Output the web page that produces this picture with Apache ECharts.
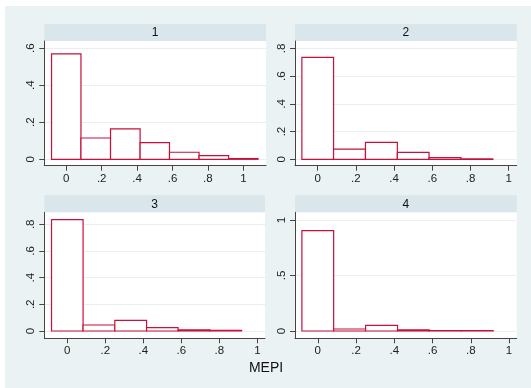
<!DOCTYPE html>
<html><head><meta charset="utf-8">
<script src="https://cdn.jsdelivr.net/npm/echarts@6/dist/echarts.min.js"></script>
<style>html,body{margin:0;padding:0;background:#fff}#c{width:531px;height:388px}</style>
</head><body><div id="c"></div><script>
// ---- data ----
const panelNames = ['1', '2', '3', '4'];
const binEdges = [-0.083, 0.083, 0.25, 0.417, 0.583, 0.75, 0.917, 1.083];
const fractions1 = [0.569, 0.115, 0.164, 0.090, 0.038, 0.0195, 0.004];
const fractions2 = [0.735, 0.074, 0.1225, 0.050, 0.0115, 0.004];
const fractions3 = [0.835, 0.045, 0.080, 0.025, 0.008, 0.004];
const fractions4 = [0.904, 0.018, 0.051, 0.010, 0.004, 0.003];
const xTicks = [0, 0.2, 0.4, 0.6, 0.8, 1];
const yTicks1 = [0, 0.2, 0.4, 0.6];
const yTicks2 = [0, 0.2, 0.4, 0.6, 0.8];
const yTicks3 = [0, 0.2, 0.4, 0.6, 0.8];
const yTicks4 = [0, 0.5, 1];
const xTitle = 'MEPI';

const allFractions = [fractions1, fractions2, fractions3, fractions4];
const allYTicks = [yTicks1, yTicks2, yTicks3, yTicks4];

// ---- layout ----
const layout = [
  {left: 44.3, top: 41, width: 221.7, height: 124.7, xmin: -0.124, xmax: 1.128, ymin: -0.0346, ymax: 0.639, stripTop: 24},
  {left: 295, top: 41, width: 221.7, height: 124.7, xmin: -0.119, xmax: 1.042, ymin: -0.046, ymax: 0.853, stripTop: 24},
  {left: 44.3, top: 212.3, width: 220.7, height: 126, xmin: -0.121, xmax: 1.04, ymin: -0.0547, ymax: 0.89, stripTop: 195.3},
  {left: 295, top: 212.3, width: 221.7, height: 126, xmin: -0.119, xmax: 1.04, ymin: -0.0658, ymax: 1.069, stripTop: 195.3}
];

const FONT = 'Liberation Sans, Arial, sans-serif';
const BAR = '#c8103c';
const AXIS = '#444';

function fmt(v) {
  if (v === 0) return '0';
  if (v === 1) return '1';
  return String(+v.toFixed(2)).replace(/^0\./, '.');
}

function renderItem(params, api) {
  const p0 = api.coord([api.value(0), api.value(2)]);
  const p1 = api.coord([api.value(1), 0]);
  return {
    type: 'rect',
    shape: {x: p0[0], y: p0[1], width: p1[0] - p0[0], height: p1[1] - p0[1]},
    style: {fill: '#fff', stroke: BAR, lineWidth: 1.2}
  };
}

const grids = [], xAxes = [], yAxes = [], series = [], graphics = [];
graphics.push({type: 'rect', z: -10, shape: {x: 5, y: 6, width: 526, height: 382}, style: {fill: '#eaf2f3'}, silent: true});

layout.forEach((L, i) => {
  grids.push({left: L.left, top: L.top, width: L.width, height: L.height, backgroundColor: '#fff', show: true, borderWidth: 0});
  xAxes.push({
    type: 'value', gridIndex: i, min: L.xmin, max: L.xmax,
    axisLine: {show: true, onZero: false, lineStyle: {color: AXIS, width: 1}},
    axisTick: {show: true, length: 5, customValues: xTicks, lineStyle: {color: AXIS}},
    axisLabel: {customValues: xTicks, formatter: fmt, margin: 7, fontFamily: FONT, fontSize: 11.5, color: '#222'},
    splitLine: {show: false}
  });
  yAxes.push({
    type: 'value', gridIndex: i, min: L.ymin, max: L.ymax,
    axisLine: {show: true, onZero: false, lineStyle: {color: AXIS, width: 1}},
    axisTick: {show: true, length: 5, customValues: allYTicks[i], lineStyle: {color: AXIS}},
    axisLabel: {customValues: allYTicks[i], formatter: fmt, rotate: 90, margin: 7, fontFamily: FONT, fontSize: 11.5, color: '#222'},
    splitLine: {show: true, lineStyle: {color: '#e8eff1', width: 1}}
  });
  const data = allFractions[i].map((f, k) => [binEdges[k], binEdges[k + 1], f]);
  series.push({
    type: 'custom', xAxisIndex: i, yAxisIndex: i, renderItem: renderItem,
    data: data, encode: {x: [0, 1], y: 2}, clip: false, silent: true
  });
  graphics.push({type: 'rect', shape: {x: L.left, y: L.stripTop, width: L.width, height: L.top - L.stripTop}, style: {fill: '#d9e6eb'}, silent: true});
  graphics.push({type: 'text', x: L.left + L.width / 2, y: (L.stripTop + L.top) / 2 + 0.5,
    style: {text: panelNames[i], fontFamily: FONT, fontSize: 12, fill: '#111', align: 'center', verticalAlign: 'middle'}, silent: true});
});

graphics.push({type: 'text', x: 266, y: 368, style: {text: xTitle, fontFamily: FONT, fontSize: 14, fill: '#111', align: 'center', verticalAlign: 'middle'}, silent: true});

const chart = echarts.init(document.getElementById('c'), null, {renderer: 'canvas'});
chart.setOption({
  animation: false,
  backgroundColor: '#fff',
  grid: grids, xAxis: xAxes, yAxis: yAxes, series: series, graphic: graphics
});
</script></body></html>
